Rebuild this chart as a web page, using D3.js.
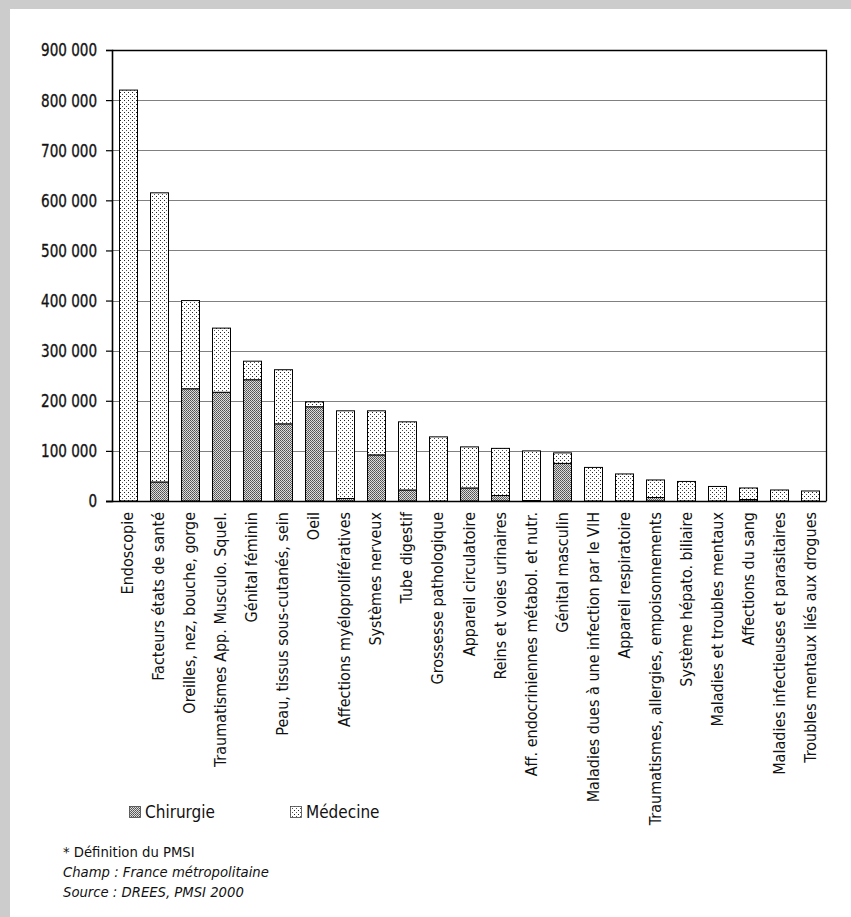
<!DOCTYPE html>
<html>
<head>
<meta charset="utf-8">
<script src="https://cdn.jsdelivr.net/npm/d3@7"></script>
<style>
  body { margin: 0; background: #fff; }
  svg { display: block; }
  text { font-family: "DejaVu Sans Condensed", "Liberation Sans Narrow", sans-serif; fill: #111; }
</style>
</head>
<body>
<script>
// categories (GHM groups), ordered as in the chart
const categories = [
  "Endoscopie", "Facteurs états de santé", "Oreilles, nez, bouche, gorge",
  "Traumatismes App. Musculo. Squel.", "Génital féminin", "Peau, tissus sous-cutanés, sein",
  "Oeil", "Affections myéloprolifératives", "Systèmes nerveux", "Tube digestif",
  "Grossesse pathologique", "Appareil circulatoire", "Reins et voies urinaires",
  "Aff. endocriniennes métabol. et nutr.", "Génital masculin",
  "Maladies dues à une infection par le VIH", "Appareil respiratoire",
  "Traumatismes, allergies, empoisonnements", "Système hépato. biliaire",
  "Maladies et troubles mentaux", "Affections du sang",
  "Maladies infectieuses et parasitaires", "Troubles mentaux liés aux drogues"
];
const chirurgie = [0, 38000, 224000, 217000, 242000, 154000, 188000, 5000, 92000, 22000,
  0, 26000, 11000, 1000, 75000, 0, 0, 7000, 0, 0, 3000, 0, 0];
const medecine = [820000, 577000, 176000, 128000, 37000, 108000, 10000, 175000, 88000, 136000,
  128000, 82000, 94000, 99000, 21000, 67000, 54000, 35000, 39000, 29000, 23000, 22000, 20000];
const yTicks = [0, 100000, 200000, 300000, 400000, 500000, 600000, 700000, 800000, 900000];
const seriesNames = ["Chirurgie", "Médecine"];
const notes = ["* Définition du PMSI", "Champ : France métropolitaine", "Source : DREES, PMSI 2000"];

const W = 851, H = 917;
const mLeft = 112, mRight = 826, mTop = 50, mBottom = 501;

const svg = d3.select("body").append("svg").attr("width", W).attr("height", H);

// grey frame on top and left
svg.append("rect").attr("width", W).attr("height", H).attr("fill", "#cccccc");
svg.append("rect").attr("x", 10).attr("y", 9).attr("width", W - 10).attr("height", H - 9).attr("fill", "#fff");

const defs = svg.append("defs");
// Médecine: white with sparse dots
const pm = defs.append("pattern").attr("id", "pMed").attr("patternUnits", "userSpaceOnUse")
  .attr("width", 4).attr("height", 4);
pm.append("rect").attr("width", 4).attr("height", 4).attr("fill", "#fff");
pm.append("rect").attr("x", 0).attr("y", 0).attr("width", 1).attr("height", 1).attr("fill", "#222");
pm.append("rect").attr("x", 2).attr("y", 2).attr("width", 1).attr("height", 1).attr("fill", "#555");
// Chirurgie: grey dense pattern
const pc = defs.append("pattern").attr("id", "pChir").attr("patternUnits", "userSpaceOnUse")
  .attr("width", 2).attr("height", 2);
pc.append("rect").attr("width", 2).attr("height", 2).attr("fill", "#dcdcdc");
pc.append("rect").attr("x", 0).attr("y", 0).attr("width", 1).attr("height", 1).attr("fill", "#505050");
pc.append("rect").attr("x", 1).attr("y", 1).attr("width", 1).attr("height", 1).attr("fill", "#666");

const x = d3.scaleBand().domain(categories).range([mLeft, mRight]).paddingInner(0.43).paddingOuter(0.22);
const y = d3.scaleLinear().domain([0, 900000]).range([mBottom, mTop]);

// gridlines
svg.append("g").selectAll("line").data(yTicks.filter(d => d > 0 && d < 900000)).join("line")
  .attr("x1", mLeft).attr("x2", mRight)
  .attr("y1", d => Math.round(y(d)) + 0.5).attr("y2", d => Math.round(y(d)) + 0.5)
  .attr("stroke", "#808080").attr("stroke-width", 1.2);

// top and right border
svg.append("path")
  .attr("d", `M${mLeft},${mTop + 0.5}H${mRight + 0.5}V${mBottom}`)
  .attr("fill", "none").attr("stroke", "#000").attr("stroke-width", 1.3);

// stacked bars
const stack = d3.stack().keys(seriesNames)(categories.map((c, i) => ({
  cat: c, "Chirurgie": chirurgie[i], "Médecine": medecine[i]
})));
const fills = { "Chirurgie": "url(#pChir)", "Médecine": "url(#pMed)" };
stack.forEach(layer => {
  svg.append("g").selectAll("rect").data(layer.filter(d => d[1] - d[0] > 0)).join("rect")
    .attr("x", d => Math.round(x(d.data.cat)) + 0.5)
    .attr("width", Math.round(x.bandwidth()))
    .attr("y", d => y(d[1]))
    .attr("height", d => y(d[0]) - y(d[1]))
    .attr("fill", fills[layer.key])
    .attr("stroke", "#000").attr("stroke-width", 1);
});

// y axis
const yAxis = svg.append("g").attr("transform", `translate(${mLeft},0)`)
  .call(d3.axisLeft(y).tickValues(yTicks).tickSize(6).tickPadding(9)
    .tickFormat(d => d3.format(",")(d).replace(/,/g, " ")));
yAxis.select(".domain").attr("stroke", "#000").attr("stroke-width", 1.6);
yAxis.selectAll(".tick line").attr("stroke", "#000").attr("stroke-width", 1.2);
yAxis.selectAll("text")
  .attr("font-size", 17.5).attr("fill", "#1a1a1a").attr("dy", "0.34em")
  .attr("stroke", "#1a1a1a").attr("stroke-width", 0.35)
  .attr("font-family", "'DejaVu Sans Condensed', sans-serif")
  .each(function (d) {
    // squeeze to the narrow look of the original face
    const len = this.getComputedTextLength();
    d3.select(this).attr("textLength", len * 0.86).attr("lengthAdjust", "spacingAndGlyphs");
  });

// baseline
svg.append("line").attr("x1", mLeft - 6).attr("x2", mRight + 0.5)
  .attr("y1", mBottom + 0.5).attr("y2", mBottom + 0.5).attr("stroke", "#000").attr("stroke-width", 1.6);

// category labels, rotated
svg.append("g").selectAll("text").data(categories).join("text")
  .attr("transform", d => `translate(${x(d) + x.bandwidth() / 2 + 5.5},${mBottom + 11}) rotate(-90)`)
  .attr("text-anchor", "end")
  .attr("font-size", 16)
  .text(d => d);

// legend
const legend = svg.append("g").selectAll("g").data(seriesNames).join("g")
  .attr("transform", (d, i) => `translate(${129 + i * 161},806)`);
legend.append("rect").attr("width", 11).attr("height", 11).attr("y", 0.5).attr("x", 0.5)
  .attr("fill", d => fills[d]).attr("stroke", "#444").attr("stroke-width", 0.8);
legend.append("text").attr("x", 16).attr("y", 12).attr("font-size", 17).text(d => d);

// notes
svg.append("g").selectAll("text").data(notes).join("text")
  .attr("x", 63).attr("y", (d, i) => 857 + i * 20)
  .attr("font-size", 14.7)
  .attr("font-style", (d, i) => i > 0 ? "italic" : "normal")
  .text(d => d);
</script>
</body>
</html>
